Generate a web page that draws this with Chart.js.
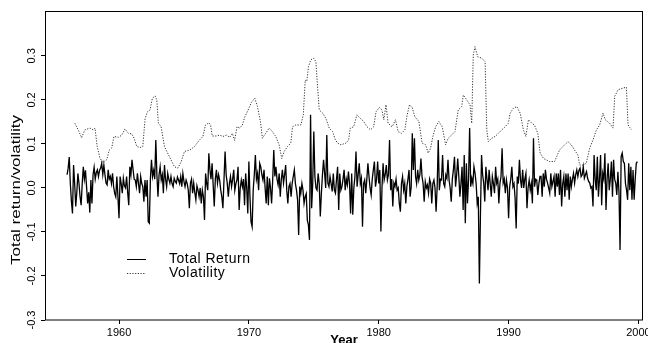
<!DOCTYPE html>
<html>
<head>
<meta charset="utf-8">
<script src="https://cdn.jsdelivr.net/npm/chart.js"></script>
<style>
  html, body { margin: 0; padding: 0; background: #fff; }
  canvas { display: block; }
</style>
</head>
<body>
<canvas id="chart" width="648" height="343"></canvas>
<script>
// monthly total return, first value is Jan 1956
const startYear = 1956;
const totalReturn = [
  0.03, 0.045, 0.07, 0.01, -0.03, -0.058, 0.052, 0.01, -0.042, -0.01, 0.033, 0.01,
  -0.02, -0.039, 0.01, 0.048, 0.02, 0.04, 0.003, -0.035, -0.01, -0.056, 0.018, -0.035,
  0.03, 0.047, 0.02, 0.035, 0.041, 0.026, 0.04, 0.045, 0.056, 0.03, 0.052, 0.03,
  0.011, 0.007, 0.041, 0.02, 0.026, 0.01, 0.033, 0.003, -0.012, -0.02, 0.026, -0.02,
  -0.069, 0.026, 0.01, -0.012, 0.022, 0.005, 0.0, 0.026, -0.01, -0.039, 0.048, 0.03,
  0.064, 0.041, 0.02, 0.018, 0.003, 0.033, 0.01, -0.012, 0.026, 0.01, 0.003, -0.031,
  0.018, -0.02, 0.018, -0.077, -0.08, 0.02, 0.064, 0.026, 0.04, 0.02, 0.109, 0.03,
  -0.02, 0.03, 0.048, 0.018, 0.03, -0.012, 0.052, 0.02, 0.003, 0.033, 0.02, 0.011,
  0.026, 0.01, 0.003, 0.022, 0.015, 0.011, 0.025, 0.018, 0.01, 0.026, 0.003, 0.033,
  0.015, 0.003, 0.018, 0.01, -0.005, -0.046, 0.011, 0.02, -0.012, 0.011, -0.01, -0.027,
  0.005, -0.005, -0.02, 0.0, -0.035, -0.005, -0.02, -0.073, 0.033, 0.01, -0.005, 0.079,
  0.041, 0.02, 0.056, 0.007, -0.042, 0.02, 0.041, 0.011, 0.03, 0.018, -0.005, -0.02,
  -0.046, 0.018, 0.083, 0.03, 0.011, -0.02, 0.01, 0.026, 0.003, 0.02, 0.041, -0.005,
  0.01, 0.018, 0.048, -0.05, 0.0, 0.018, 0.003, 0.02, -0.039, 0.033, 0.0, -0.058,
  0.06, -0.02, -0.077, -0.088, -0.005, 0.03, 0.075, 0.02, 0.033, -0.005, 0.056, 0.048,
  0.03, 0.018, 0.041, 0.0, -0.035, 0.026, -0.039, 0.022, 0.0, -0.035, 0.018, 0.086,
  0.026, 0.048, 0.02, 0.007, 0.033, -0.02, 0.02, 0.041, 0.011, 0.03, 0.052, -0.005,
  -0.035, 0.003, 0.01, -0.02, 0.01, 0.026, 0.041, 0.01, -0.005, -0.027, -0.107, 0.003,
  -0.012, 0.01, -0.005, -0.035, -0.02, -0.013, -0.073, -0.084, -0.118, 0.166, -0.046, 0.011,
  0.128, 0.026, 0.0, -0.005, 0.033, 0.01, -0.065, -0.012, 0.03, 0.064, 0.033, 0.0,
  0.12, 0.011, 0.003, 0.026, 0.01, -0.008, 0.033, -0.005, -0.012, 0.02, 0.048, -0.05,
  0.033, -0.005, 0.003, 0.02, 0.041, -0.005, 0.02, 0.007, 0.037, 0.01, -0.058, 0.033,
  -0.061, 0.0, 0.026, 0.083, 0.003, 0.03, 0.056, 0.01, 0.022, -0.088, 0.01, 0.018,
  -0.012, 0.02, 0.056, 0.026, 0.0, -0.016, 0.02, 0.041, 0.06, 0.003, 0.02, 0.06,
  0.01, 0.041, -0.099, 0.0, 0.056, 0.018, 0.03, 0.052, 0.018, 0.03, 0.109, -0.005,
  0.02, -0.042, 0.011, 0.003, 0.02, -0.005, 0.0, -0.035, -0.054, 0.01, 0.026, -0.005,
  0.01, -0.035, 0.003, 0.02, 0.041, -0.02, 0.003, 0.124, 0.041, 0.113, 0.026, 0.01,
  0.041, 0.018, 0.03, 0.067, 0.026, 0.01, -0.031, 0.014, 0.0, 0.007, -0.012, 0.02,
  0.011, -0.035, 0.01, 0.018, 0.0, -0.054, 0.003, 0.109, -0.005, 0.02, 0.018, 0.075,
  0.01, 0.003, 0.03, 0.022, 0.064, 0.018, 0.0, -0.031, 0.02, 0.041, 0.071, 0.003,
  0.03, 0.067, 0.026, -0.02, 0.01, 0.048, -0.05, 0.075, -0.08, 0.056, -0.035, 0.02,
  0.136, 0.003, 0.022, 0.01, 0.048, 0.033, 0.01, -0.035, -0.02, -0.217, -0.06, 0.075,
  0.03, 0.011, -0.031, 0.048, 0.02, -0.005, 0.041, 0.01, -0.02, 0.026, 0.01, -0.012,
  0.048, 0.011, 0.02, -0.035, 0.01, 0.026, 0.09, 0.011, 0.02, -0.012, 0.018, 0.0,
  -0.069, 0.003, 0.02, 0.048, 0.003, 0.01, -0.023, -0.092, 0.026, 0.01, 0.064, 0.018,
  0.0, 0.041, 0.0, 0.02, 0.033, -0.046, 0.0, 0.018, -0.005, 0.01, -0.035, 0.113,
  0.003, 0.02, 0.018, -0.016, 0.01, 0.026, 0.026, -0.02, 0.033, 0.003, 0.041, 0.02,
  0.011, 0.0, -0.012, 0.033, 0.003, 0.015, 0.026, -0.02, 0.033, 0.003, 0.033, -0.016,
  0.041, -0.042, 0.01, 0.026, -0.02, 0.033, -0.005, 0.033, -0.027, 0.026, 0.003, 0.02,
  0.033, 0.011, 0.03, 0.041, 0.026, 0.04, 0.045, 0.026, 0.03, 0.048, 0.022, 0.03,
  0.037, 0.022, 0.015, 0.011, 0.0, 0.003, -0.042, 0.075, 0.02, -0.005, 0.071, -0.02,
  0.02, 0.075, -0.039, 0.033, 0.02, 0.079, -0.05, 0.02, 0.056, -0.005, 0.02, 0.06,
  -0.02, 0.064, 0.02, 0.011, -0.016, 0.037, -0.01, -0.141, 0.071, 0.079, 0.06, 0.056,
  0.01, -0.005, -0.027, 0.056, -0.005, 0.048, -0.027, 0.041, -0.027, 0.02, 0.056, 0.06
];

// volatility, read at the turning points of the dotted curve
const volYears = [
  1956.60, 1956.86, 1957.12, 1957.37, 1957.76, 1958.02, 1958.15, 1958.32, 1958.53, 1958.74,
  1959.05, 1959.25, 1959.44, 1959.61, 1959.95, 1960.21, 1960.46, 1960.72, 1960.98, 1961.16,
  1961.37, 1961.62, 1961.83, 1962.01, 1962.19, 1962.39, 1962.57, 1962.78, 1962.91, 1963.03,
  1963.24, 1963.50, 1963.88, 1964.27, 1964.53, 1964.79, 1965.04, 1965.43, 1965.81, 1966.20,
  1966.46, 1966.66, 1966.93, 1967.05, 1967.18, 1967.49, 1967.75, 1968.01, 1968.26, 1968.52,
  1968.73, 1968.90, 1969.09, 1969.29, 1969.50, 1969.68, 1969.94, 1970.19, 1970.45, 1970.66,
  1970.91, 1971.04, 1971.30, 1971.56, 1971.81, 1972.07, 1972.33, 1972.53, 1972.72, 1972.97,
  1973.23, 1973.36, 1973.61, 1974.00, 1974.19, 1974.34, 1974.46, 1974.59, 1974.77, 1974.98,
  1975.16, 1975.29, 1975.42, 1975.68, 1975.93, 1976.19, 1976.45, 1976.66, 1976.83, 1977.09,
  1977.48, 1977.68, 1977.81, 1978.07, 1978.32, 1978.59, 1978.84, 1979.10, 1979.36, 1979.61,
  1979.79, 1980.05, 1980.25, 1980.39, 1980.56, 1980.72, 1981.03, 1981.29, 1981.49, 1981.75,
  1982.01, 1982.19, 1982.37, 1982.57, 1982.78, 1983.09, 1983.34, 1983.61, 1983.81, 1983.99,
  1984.17, 1984.38, 1984.63, 1984.89, 1985.15, 1985.35, 1985.61, 1985.87, 1986.12, 1986.39,
  1986.51, 1986.77, 1987.03, 1987.16, 1987.28, 1987.41, 1987.62, 1987.93, 1988.19, 1988.32,
  1988.44, 1988.70, 1988.96, 1989.21, 1989.47, 1989.73, 1989.98, 1990.12, 1990.37, 1990.63,
  1990.89, 1991.14, 1991.33, 1991.53, 1991.79, 1991.99, 1992.25, 1992.43, 1992.69, 1993.15,
  1993.54, 1993.92, 1994.31, 1994.57, 1994.83, 1995.08, 1995.34, 1995.47, 1995.73, 1995.98,
  1996.24, 1996.50, 1996.76, 1997.01, 1997.27, 1997.45, 1997.78, 1998.04, 1998.17, 1998.43,
  1998.82, 1999.07, 1999.20, 1999.46
];
const volatility = [
  0.147, 0.132, 0.114, 0.132, 0.136, 0.132, 0.136, 0.094, 0.068, 0.058,
  0.064, 0.086, 0.091, 0.117, 0.115, 0.120, 0.134, 0.124, 0.123, 0.113,
  0.094, 0.092, 0.094, 0.158, 0.173, 0.177, 0.204, 0.209, 0.200, 0.147,
  0.139, 0.094, 0.071, 0.048, 0.045, 0.060, 0.083, 0.086, 0.094, 0.109,
  0.117, 0.143, 0.148, 0.143, 0.118, 0.118, 0.120, 0.117, 0.120, 0.115,
  0.124, 0.108, 0.139, 0.136, 0.143, 0.161, 0.177, 0.194, 0.204, 0.185,
  0.147, 0.113, 0.124, 0.136, 0.128, 0.117, 0.098, 0.067, 0.083, 0.094,
  0.102, 0.139, 0.143, 0.143, 0.166, 0.245, 0.242, 0.276, 0.291, 0.295,
  0.287, 0.230, 0.177, 0.170, 0.158, 0.136, 0.128, 0.109, 0.102, 0.098,
  0.102, 0.109, 0.136, 0.139, 0.166, 0.158, 0.151, 0.139, 0.132, 0.139,
  0.173, 0.183, 0.177, 0.155, 0.189, 0.147, 0.139, 0.155, 0.128, 0.124,
  0.132, 0.166, 0.189, 0.183, 0.162, 0.151, 0.102, 0.098, 0.079, 0.090,
  0.117, 0.139, 0.151, 0.139, 0.098, 0.113, 0.120, 0.128, 0.177, 0.185,
  0.211, 0.200, 0.189, 0.147, 0.302, 0.321, 0.298, 0.295, 0.287, 0.132,
  0.105, 0.113, 0.117, 0.124, 0.132, 0.139, 0.147, 0.170, 0.181, 0.185,
  0.170, 0.132, 0.117, 0.155, 0.147, 0.143, 0.124, 0.079, 0.067, 0.060,
  0.060, 0.086, 0.098, 0.105, 0.098, 0.086, 0.075, 0.052, 0.052, 0.056,
  0.090, 0.109, 0.132, 0.143, 0.170, 0.155, 0.147, 0.136, 0.208, 0.223,
  0.227, 0.229, 0.143, 0.132
];

const xTicks = [1960, 1970, 1980, 1990, 2000];
const yTicks = [-0.3, -0.2, -0.1, 0.0, 0.1, 0.2, 0.3];

const FONT = '"Liberation Sans", Arial, Helvetica, sans-serif';

const returnPoints = totalReturn.map((v, i) => ({ x: startYear + i / 12, y: v }));
const volPoints = volYears.map((yr, i) => ({ x: yr, y: volatility[i] }));

// box, rotated y labels, legend and the x title (S-plus look)
const framePlugin = {
  id: 'frame',
  afterDraw(chart) {
    const { ctx, chartArea: a, scales: { y } } = chart;
    ctx.save();
    ctx.strokeStyle = '#000';
    ctx.lineWidth = 1;
    ctx.strokeRect(a.left + 0.5, a.top + 0.5, a.right - a.left - 1, a.bottom - a.top - 0.5);

    ctx.fillStyle = '#000';
    ctx.textAlign = 'center';
    ctx.textBaseline = 'middle';
    ctx.font = '11px ' + FONT;
    yTicks.forEach(v => {
      ctx.save();
      ctx.translate(32, y.getPixelForValue(v));
      ctx.rotate(-Math.PI / 2);
      ctx.fillText(v.toFixed(1), 0, 0);
      ctx.restore();
    });

    // y title, stretched to the length it has in the original
    ctx.save();
    ctx.font = '12px ' + FONT;
    const title = 'Total return/volatility';
    const k = 150 / ctx.measureText(title).width;
    ctx.translate(17, 190);
    ctx.rotate(-Math.PI / 2);
    ctx.scale(k, 1);
    ctx.fillText(title, 0, 0);
    ctx.restore();

    // legend
    const ds = chart.data.datasets;
    const rows = [259, 273];
    ctx.font = '14px ' + FONT;
    ctx.textAlign = 'left';
    ctx.letterSpacing = '0.5px';
    ds.forEach((d, i) => {
      ctx.save();
      ctx.strokeStyle = d.borderColor;
      ctx.lineWidth = 1;
      ctx.setLineDash(d.borderDash || []);
      ctx.beginPath();
      ctx.moveTo(127, rows[i] + 0.5);
      ctx.lineTo(146, rows[i] + 0.5);
      ctx.stroke();
      ctx.restore();
      ctx.fillText(d.label, 169, rows[i]);
    });
    ctx.letterSpacing = '0px';

    ctx.font = 'bold 13px ' + FONT;
    ctx.textAlign = 'center';
    ctx.textBaseline = 'alphabetic';
    ctx.fillText('Year', (a.left + a.right) / 2, 344);
    ctx.restore();
  }
};

new Chart(document.getElementById('chart'), {
  type: 'line',
  data: {
    datasets: [
      {
        label: 'Total Return',
        data: returnPoints,
        borderColor: '#000',
        borderWidth: 1.3,
        pointRadius: 0,
        tension: 0
      },
      {
        label: 'Volatility',
        data: volPoints,
        borderColor: '#333',
        borderWidth: 1,
        borderDash: [1.2, 1.5],
        pointRadius: 0,
        tension: 0
      }
    ]
  },
  options: {
    responsive: false,
    animation: false,
    layout: { padding: { top: 11, right: 5, left: 0, bottom: 0 } },
    plugins: { legend: { display: false }, tooltip: { enabled: false } },
    scales: {
      x: {
        type: 'linear',
        min: 1954.3,
        max: 2000.35,
        afterBuildTicks: s => { s.ticks = xTicks.map(v => ({ value: v })); },
        afterFit: s => { s.height = 23; s.paddingLeft = 0; s.paddingRight = 0; },
        border: { display: false },
        grid: { drawOnChartArea: false, tickLength: 4, color: '#000' },
        ticks: {
          color: '#000',
          font: { family: FONT, size: 11 },
          padding: 2,
          maxRotation: 0,
          autoSkip: false,
          callback: v => String(v)
        }
      },
      y: {
        type: 'linear',
        min: -0.3,
        max: 0.402,
        afterBuildTicks: s => { s.ticks = yTicks.map(v => ({ value: v })); },
        afterFit: s => { s.width = 45; },
        border: { display: false },
        grid: { drawOnChartArea: false, tickLength: 4, color: '#000' },
        ticks: { display: false }
      }
    }
  },
  plugins: [framePlugin]
});
</script>
</body>
</html>
